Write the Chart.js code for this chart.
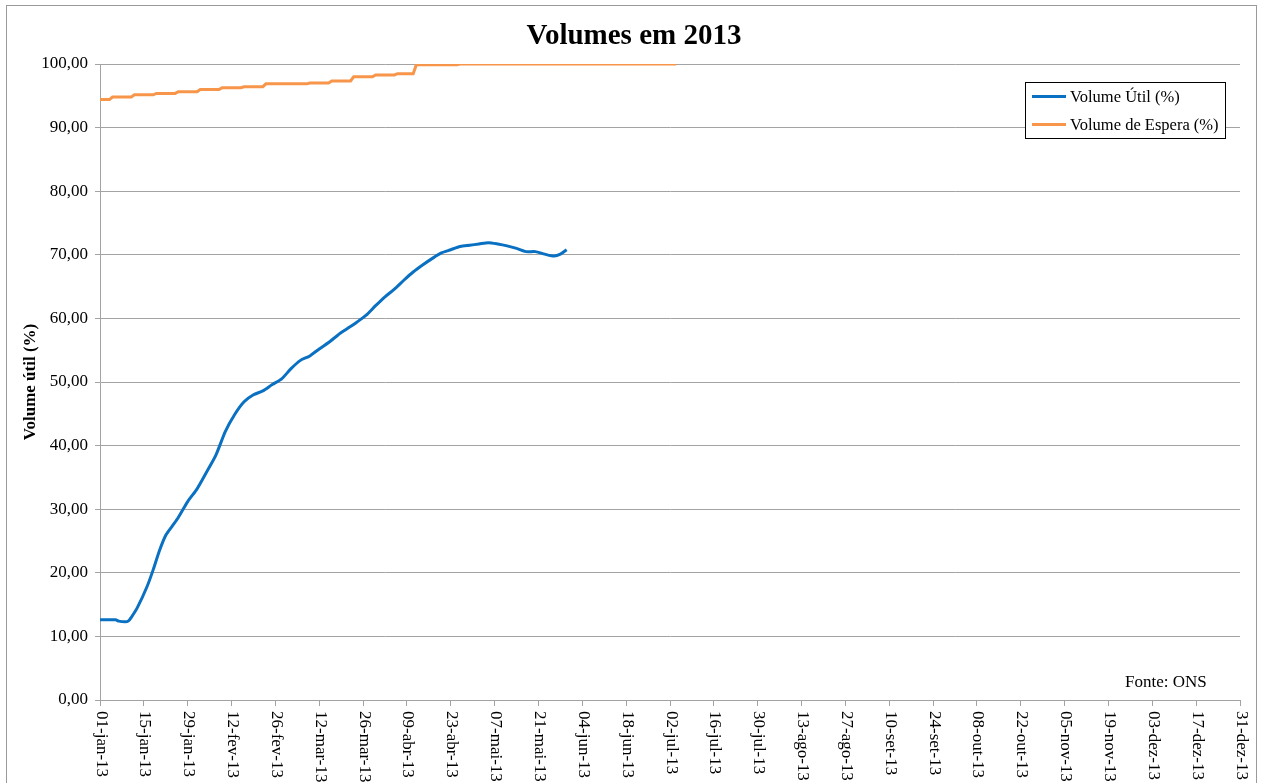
<!DOCTYPE html>
<html>
<head>
<meta charset="utf-8">
<script src="https://cdn.jsdelivr.net/npm/chart.js@4/dist/chart.umd.min.js"></script>
<style>
html,body{margin:0;padding:0;background:#fff;}
#wrap{width:1261px;height:783px;position:relative;}
</style>
</head>
<body>
<div id="wrap"><canvas id="c"></canvas></div>
<script>
// ---- data (day index from 01-jan-2013) ----
const xTickDays = [0,14,28,42,56,70,84,98,112,126,140,154,168,182,196,210,224,238,252,266,280,294,308,322,336,350,364];
const xTickLabels = ['01-jan-13','15-jan-13','29-jan-13','12-fev-13','26-fev-13','12-mar-13','26-mar-13','09-abr-13','23-abr-13','07-mai-13','21-mai-13','04-jun-13','18-jun-13','02-jul-13','16-jul-13','30-jul-13','13-ago-13','27-ago-13','10-set-13','24-set-13','08-out-13','22-out-13','05-nov-13','19-nov-13','03-dez-13','17-dez-13','31-dez-13'];

const utilDays   = [0,5,6,8,9,10,12,15,17,19,21,23,25,28,31,34,37,40,43,46,49,52,55,58,61,64,67,70,73,76,79,82,85,88,91,94,97,100,103,106,109,112,115,118,121,124,127,130,133,136,139,142,145,147,149];
const utilValues = [12.6,12.6,12.4,12.3,12.4,13.0,14.6,17.8,20.5,23.5,25.9,27.3,28.7,31.2,33.2,35.8,38.5,42.2,44.9,46.9,48.0,48.6,49.6,50.5,52.1,53.4,54.1,55.2,56.2,57.4,58.4,59.4,60.5,62.0,63.4,64.6,66.0,67.3,68.4,69.4,70.3,70.8,71.3,71.5,71.7,71.9,71.7,71.4,71.0,70.5,70.5,70.1,69.8,70.1,70.8];

const esperaDays   = [0,3,4,10,11,17,18,24,25,31,32,38,39,45,46,52,53,66,67,73,74,80,81,87,88,94,95,100,101,114,115,184];
const esperaValues = [94.4,94.4,94.8,94.8,95.15,95.15,95.38,95.38,95.65,95.65,95.98,95.98,96.28,96.28,96.43,96.43,96.88,96.88,97.02,97.02,97.33,97.33,97.98,97.98,98.27,98.27,98.48,98.48,99.9,99.9,100.0,100.0];

const seriesNames = ['Volume Útil (%)','Volume de Espera (%)'];
const chartTitle = 'Volumes em 2013';
const yTitle = 'Volume útil (%)';
const sourceNote = 'Fonte: ONS';

const SERIF = '"Liberation Serif","Times New Roman",serif';
const GRID = '#a3a3a3';

const toPts = (d, v) => d.map((x, i) => ({x: x, y: v[i]}));

const decor = {
  id: 'decor',
  afterDraw(chart) {
    const ctx = chart.ctx;
    const xs = chart.scales.x;
    ctx.save();
    // outer border
    ctx.strokeStyle = '#9a9a9a';
    ctx.lineWidth = 1;
    ctx.strokeRect(6.5, 5.5, 1250, 800);
    // title
    ctx.fillStyle = '#000';
    ctx.font = 'bold 29px ' + SERIF;
    ctx.textAlign = 'center';
    ctx.textBaseline = 'middle';
    ctx.fillText(chartTitle, 634, 37);
    // y title
    ctx.save();
    ctx.translate(31, 382);
    ctx.rotate(-Math.PI / 2);
    ctx.font = 'bold 17px ' + SERIF;
    ctx.fillText(yTitle, 0, 0);
    ctx.restore();
    // x tick labels, rotated clockwise
    ctx.font = '17px ' + SERIF;
    ctx.textAlign = 'left';
    ctx.textBaseline = 'middle';
    xTickDays.forEach((d, i) => {
      const px = xs.getPixelForValue(d);
      ctx.save();
      ctx.translate(px + 1, 711);
      ctx.rotate(Math.PI / 2);
      ctx.fillText(xTickLabels[i], 0, 0);
      ctx.restore();
    });
    // source note
    ctx.textAlign = 'left';
    ctx.font = '17px ' + SERIF;
    ctx.fillText(sourceNote, 1125, 683);
    // legend
    ctx.fillStyle = '#fff';
    ctx.fillRect(1025.5, 82.5, 200, 56);
    ctx.strokeStyle = '#000';
    ctx.lineWidth = 1;
    ctx.strokeRect(1025.5, 82.5, 200, 56);
    chart.data.datasets.forEach((ds, i) => {
      const y = 96.5 + i * 28;
      ctx.strokeStyle = ds.borderColor;
      ctx.lineWidth = 3;
      ctx.beginPath();
      ctx.moveTo(1032, y);
      ctx.lineTo(1066, y);
      ctx.stroke();
      ctx.fillStyle = '#000';
      ctx.font = '16.5px ' + SERIF;
      ctx.fillText(ds.label, 1070, y + 1);
    });
    ctx.restore();
  }
};

new Chart(document.getElementById('c'), {
  type: 'line',
  data: {
    datasets: [
      {
        label: seriesNames[0],
        data: toPts(utilDays, utilValues),
        borderColor: '#0a70c2',
        borderWidth: 3,
        pointRadius: 0,
        tension: 0.25,
        fill: false
      },
      {
        label: seriesNames[1],
        data: toPts(esperaDays, esperaValues),
        borderColor: '#f7964a',
        borderWidth: 3,
        pointRadius: 0,
        tension: 0,
        fill: false
      }
    ]
  },
  options: {
    responsive: true,
    maintainAspectRatio: false,
    animation: false,
    layout: { padding: { left: 0, top: 64, right: 21, bottom: 0 } },
    plugins: {
      legend: { display: false },
      title: { display: false },
      tooltip: { enabled: false }
    },
    scales: {
      x: {
        type: 'linear',
        min: 0,
        max: 364,
        afterBuildTicks(scale) { scale.ticks = xTickDays.map(v => ({value: v})); },
        afterFit(scale) { scale.height = 83; },
        ticks: { display: false },
        grid: { display: true, drawOnChartArea: false, drawTicks: true, tickLength: 6, color: GRID },
        border: { display: true, color: GRID, width: 1 }
      },
      y: {
        min: 0,
        max: 100,
        afterFit(scale) { scale.width = 100; },
        ticks: {
          stepSize: 10,
          padding: 7,
          color: '#000',
          font: { family: SERIF, size: 17 },
          callback: v => v.toFixed(2).replace('.', ',')
        },
        grid: { color: GRID, lineWidth: 1, tickLength: 5, drawTicks: true },
        border: { display: true, color: GRID, width: 1 }
      }
    }
  },
  plugins: [decor]
});
</script>
</body>
</html>
